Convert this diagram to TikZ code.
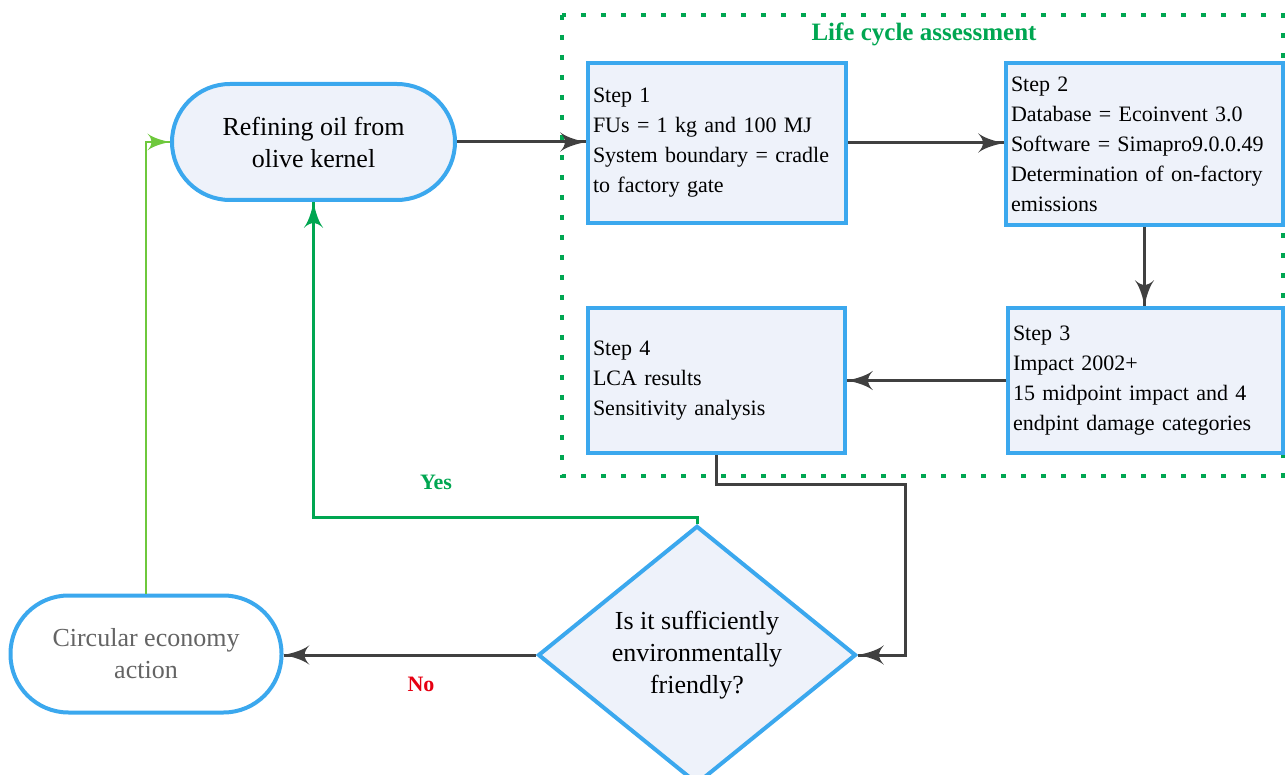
\documentclass[tikz,border=0pt]{standalone}
\usepackage{fontspec}
\setmainfont{Liberation Serif}
\usepackage{tikz}
\usetikzlibrary{arrows}
\usetikzlibrary{decorations.markings}
\usetikzlibrary{positioning}
\usetikzlibrary{shapes.geometric}
\hyphenpenalty=10000
\tikzset{flow/.style = {decoration={markings,
                                    mark=at position 1 with {\arrow[scale=2.2]{latex'}}},
                        postaction={decorate}}}
\tikzset{stepbox/.style = {draw=mblue, fill=mfill, line width=4pt, align=left,
                           inner xsep=5pt, inner ysep=0pt,
                           font=\fontsize{22}{30}\selectfont}}
\tikzset{pill/.style = {draw=mblue, line width=4pt, rounded corners=58pt, align=center,
                        font=\fontsize{26}{32}\selectfont}}
\definecolor{mblue}{RGB}{59, 168, 238}
\definecolor{mfill}{RGB}{238, 242, 250}
\definecolor{mdark}{RGB}{64, 64, 64}
\definecolor{mgreen}{RGB}{0, 166, 81}
\definecolor{mlight}{RGB}{110, 200, 60}
\definecolor{mred}{RGB}{230, 0, 18}
\definecolor{mgray}{RGB}{100, 100, 100}

\begin{document}
\begin{tikzpicture}[x=1pt, y=-1pt]
      \useasboundingbox (0, 0) rectangle (1285, 775);
      \draw [mgreen, line width=4pt, dash pattern=on 5pt off 15pt] (562, 15) rectangle (1283, 476);
      \node (lca) at (924, 34) [mgreen, font=\bfseries\fontsize{25}{30}\selectfont] {Life cycle assessment};

      \node (refine) at (313.5, 142) [pill, fill=mfill, minimum width=283pt, minimum height=116pt]
        {Refining oil from\\olive kernel};
      \node (circ) at (146, 654) [pill, fill=white, text=mgray, minimum width=271pt, minimum height=117pt]
        {Circular economy\\action};

      \node (step1) at (717, 143) [stepbox, text width=248pt, minimum height=160pt]
        {Step 1\\FUs = 1 kg and 100 MJ\\System boundary = cradle\\to factory gate};
      \node (step2) at (1144.5, 144) [stepbox, text width=267pt, minimum height=162pt]
        {Step 2\\Database = Ecoinvent 3.0\\Software = Simapro9.0.0.49\\Determination of on-factory\\emissions};
      \node (step3) at (1145.5, 380.5) [stepbox, text width=265pt, minimum height=145pt]
        {Step 3\\Impact 2002+\\15 midpoint impact and 4\\endpint damage categories};
      \node (step4) at (716.5, 380.5) [stepbox, text width=247pt, minimum height=145pt]
        {Step 4\\LCA results\\Sensitivity analysis};

      \node (check) at (697, 655) [diamond, draw=mblue, fill=mfill, line width=4pt, align=center,
                                   minimum width=318pt, minimum height=246pt, inner sep=0pt,
                                   font=\fontsize{26}{32}\selectfont]
        {Is it sufficiently\\environmentally\\friendly?};

      \coordinate (turn) at (905, 484);
      \coordinate (yes) at (500, 517);

      \draw [flow, mdark, line width=3pt] (refine.east) -- (refine.east -| step1.west);
      \draw [flow, mdark, line width=3pt] (step1.east) -- (step1.east -| step2.west);
      \draw [flow, mdark, line width=3pt] (step2.south) -- (step2.south |- step3.north);
      \draw [flow, mdark, line width=3pt] (step3.west) -- (step3.west -| step4.east);
      \draw [flow, mdark, line width=3pt] (step4.south) |- (turn) |- (check.east);
      \draw [flow, mdark, line width=3pt] (check.west) -- (check.west -| circ.east);
      \draw [flow, mgreen, line width=3pt] (check.north) |- (yes) -| (refine.south);
      \draw [flow, mlight, line width=2.5pt] (circ.north) |- (refine.west);

      \node (yeslabel) at (436, 482) [mgreen, font=\bfseries\fontsize{22}{26}\selectfont] {Yes};
      \node (nolabel) at (421, 684) [mred, font=\bfseries\fontsize{22}{26}\selectfont] {No};
\end{tikzpicture}
\end{document}
